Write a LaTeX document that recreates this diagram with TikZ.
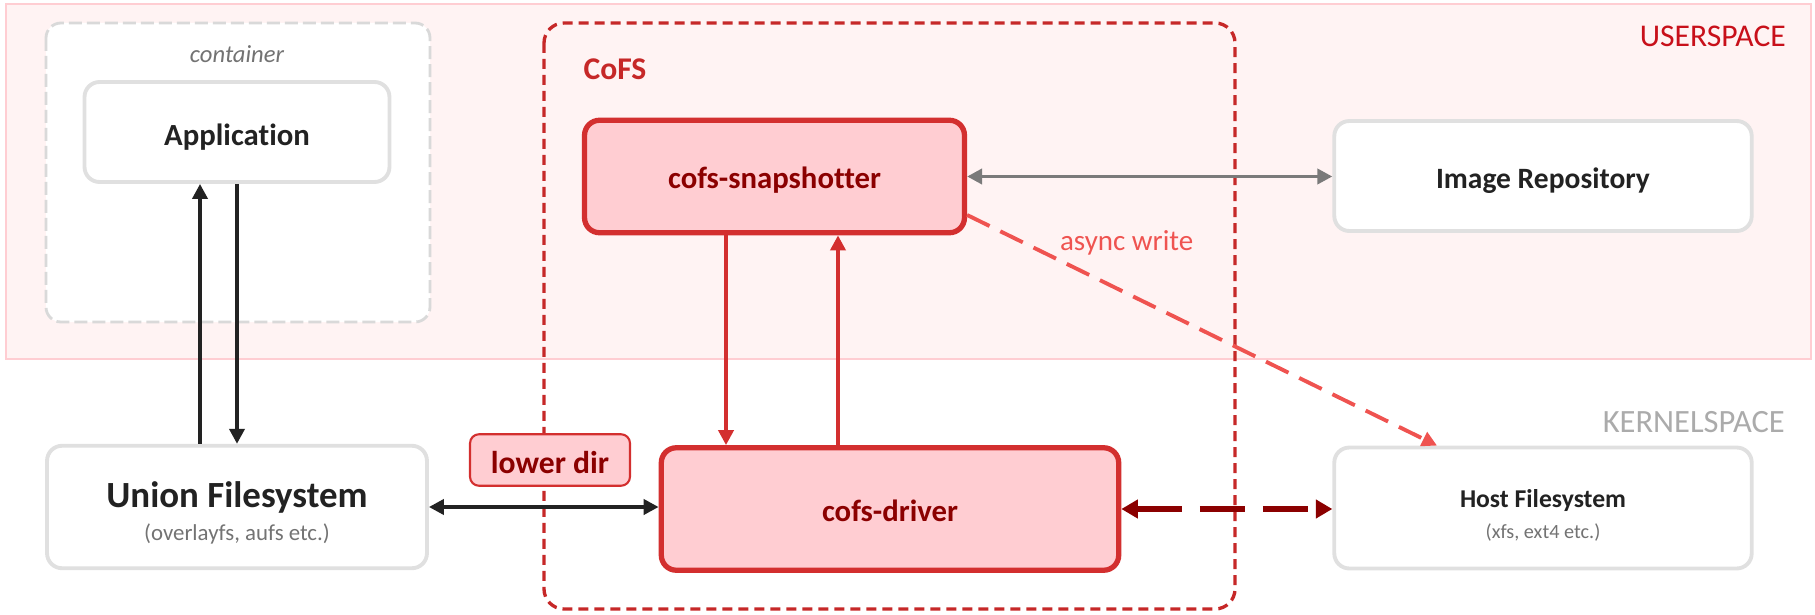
\documentclass[tikz,border=0pt]{standalone}
\usepackage{fontspec}
\setmainfont{Carlito}[Ligatures=NoCommon]
\usetikzlibrary{arrows.meta}

\definecolor{userbg}{HTML}{FFF3F3}
\definecolor{userline}{HTML}{FFCDD2}
\definecolor{userred}{HTML}{C8101A}
\definecolor{kernelgray}{HTML}{ABABAB}
\definecolor{boxgray}{HTML}{E0E0E0}
\definecolor{dashgray}{HTML}{D9D9D9}
\definecolor{textdark}{HTML}{222222}
\definecolor{subgray}{HTML}{737373}
\definecolor{cofsred}{HTML}{D32F2F}
\definecolor{cofsline}{HTML}{C62828}
\definecolor{cofspink}{HTML}{FFCDD2}
\definecolor{cofsdark}{HTML}{8B0000}
\definecolor{arrowgray}{HTML}{7A7A7A}
\definecolor{asyncred}{HTML}{EF5350}

\begin{document}
\begin{tikzpicture}[x=0.02cm, y=-0.02cm,
    box/.style={draw=boxgray, line width=2.2pt, fill=white, rounded corners=0.3cm,
        text=textdark, font=\bfseries\fontsize{17.5}{20}\selectfont,
        text height=14pt, text depth=0pt},
    cofsbox/.style={draw=cofsred, line width=3pt, fill=cofspink, rounded corners=0.3cm,
        text=cofsdark, font=\bfseries\fontsize{17.5}{20}\selectfont,
        text height=14pt, text depth=0pt},
    link/.style={line width=2.2pt, draw=textdark, >={Triangle[length=0.3cm, width=0.3cm]}}
]
    \useasboundingbox (0,0) rectangle (1815,615);

    % Userspace band
    \draw[fill=userbg, draw=userline, line width=1.1pt] (6,4) rectangle (1811,359);
    \node[anchor=east, text=userred, font=\fontsize{18}{20}\selectfont] (userspace) at (1792,36) {USERSPACE};
    \node[anchor=east, text=kernelgray, font=\fontsize{18.5}{20}\selectfont] (kernelspace) at (1791,422) {KERNELSPACE};

    % Container and CoFS frames
    \draw[draw=dashgray, fill=white, line width=1.6pt, rounded corners=0.3cm,
        dash pattern=on 0.26cm off 0.1cm] (46,23) rectangle (430,322);
    \node[text=subgray, font=\itshape\fontsize{14}{16}\selectfont] (container) at (237,54) {container};
    \draw[draw=cofsline, line width=1.9pt, rounded corners=0.4cm,
        dash pattern=on 0.2cm off 0.12cm] (544,23) rectangle (1235,609);
    \node[text=cofsline, font=\bfseries\fontsize{18}{20}\selectfont] (cofs) at (615,69) {CoFS};

    % Boxes
    \node[box, minimum width=6.1cm, minimum height=2.0cm, text height=15pt] (app) at (237,132) {Application};
    \node[box, minimum width=7.6cm, minimum height=2.45cm, align=center,
        text height=, text depth=] (union) at (237,507)
        {\fontsize{21}{24}\selectfont\rule{0pt}{21.5pt}Union Filesystem\\[-1pt]
         {\mdseries\color{subgray}\fontsize{13}{15}\selectfont (overlayfs, aufs etc.)}};
    \node[cofsbox, minimum width=7.6cm, minimum height=2.25cm] (snap) at (774.5,176.5) {cofs-snapshotter};
    \node[cofsbox, minimum width=9.15cm, minimum height=2.45cm] (driver) at (890,509) {cofs-driver};
    \node[box, minimum width=8.35cm, minimum height=2.2cm,
        font=\bfseries\fontsize{16.8}{20}\selectfont] (imgrepo) at (1543,176) {Image Repository};
    \node[box, minimum width=8.35cm, minimum height=2.42cm, align=center,
        text height=, text depth=] (hostfs) at (1543,508)
        {\fontsize{14.6}{17}\selectfont\rule{0pt}{18.5pt}Host Filesystem\\[-2pt]
         {\mdseries\color{subgray}\fontsize{11.5}{13}\selectfont (xfs, ext4 etc.)}};
    \node[draw=cofsred, fill=cofspink, line width=1.2pt, rounded corners=0.18cm,
        minimum width=3.2cm, minimum height=1.03cm, text=cofsdark,
        text height=15.2pt, text depth=0pt,
        font=\bfseries\fontsize{18}{20}\selectfont] (lowerdir) at (550,460) {lower dir};

    % Application <-> Union Filesystem
    \draw[link, ->] ([xshift=-0.74cm]union.north) -- ([xshift=-0.74cm]union.north |- app.south);
    \draw[link, ->] (app.south) -- (app.south |- union.north);

    % Union Filesystem <-> cofs-driver
    \draw[link, <->] (union.east) -- (union.east -| driver.west);

    % cofs-snapshotter <-> cofs-driver
    \draw[link, draw=cofsred, ->] ([xshift=-0.97cm]snap.south) -- ([xshift=-0.97cm]snap.south |- driver.north);
    \draw[link, draw=cofsred, ->] ([xshift=1.27cm]snap.south |- driver.north) -- ([xshift=1.27cm]snap.south);

    % cofs-snapshotter <-> Image Repository
    \draw[link, draw=arrowgray, <->] (snap.east) -- (snap.east -| imgrepo.west);

    % async write
    \draw[link, draw=asyncred, dash pattern=on 0.5cm off 0.24cm, ->]
        ([yshift=-0.77cm]snap.east) -- ([xshift=-2.12cm]hostfs.north)
        node[pos=0.19, anchor=south west, inner sep=1pt, text=asyncred,
             font=\fontsize{16.5}{18}\selectfont] (asynclbl) {async write};

    % cofs-driver <-> Host Filesystem
    \draw[line width=3.8pt, draw=cofsdark, dash pattern=on 0.9cm off 0.36cm,
        >={Triangle[length=0.33cm, width=0.36cm]}, <->] (driver.east) -- (driver.east -| hostfs.west);
\end{tikzpicture}
\end{document}
